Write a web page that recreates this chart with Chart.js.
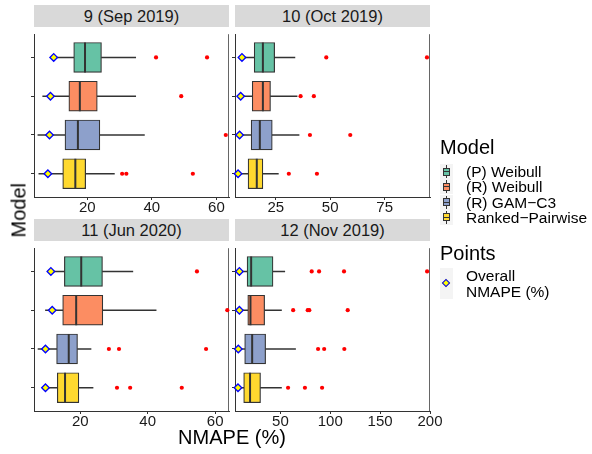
<!DOCTYPE html>
<html>
<head>
<meta charset="utf-8">
<script src="https://cdn.jsdelivr.net/npm/chart.js@4.4.0/dist/chart.umd.min.js"></script>
<style>
  body { margin: 0; background: #fff; }
  #fig { position: relative; width: 592px; height: 454px; overflow: hidden;
         font-family: "Liberation Sans", Arial, sans-serif; color: #000; }
  #fig canvas { position: absolute; }
  .strip { position: absolute; background: #d9d9d9; color: #1a1a1a; font-size: 16.5px;
           text-align: center; line-height: 22px; height: 22px; }
  .txt { position: absolute; white-space: nowrap; }
  .key { position: absolute; background: #f4f4f4; }
  .key div { position: absolute; box-sizing: border-box; }
</style>
</head>
<body>
<div id="fig"></div>
<script>
// categories (top to bottom) and facets
const models = ['(P) Weibull', '(R) Weibull', '(R) GAM\u2212C3', 'Ranked\u2212Pairwise'];
const periods = ['9 (Sep 2019)', '10 (Oct 2019)', '11 (Jun 2020)', '12 (Nov 2019)'];
const modelColors = ['#66C2A5', '#FC8D62', '#8DA0CB', '#FFD92F'];

// boxplot stats per period, one value per model
const lowerWhisker = [
  [9.3, 6.2, 4.7, 5.0],
  [9.2, 8.5, 8.0, 7.4],
  [11.5, 9.7, 7.5, 9.5],
  [9.0, 8.5, 7.5, 5.5]
];
const q1 = [
  [15.8, 14.3, 13.1, 12.4],
  [15.1, 14.2, 13.7, 12.3],
  [15.3, 14.8, 13.0, 13.2],
  [16.6, 17.3, 14.2, 13.2]
];
const median = [
  [19.3, 17.7, 17.1, 16.3],
  [19.1, 19.1, 17.7, 16.3],
  [20.3, 18.8, 16.6, 15.5],
  [20.7, 20.0, 21.7, 19.6]
];
const q3 = [
  [24.4, 23.1, 23.9, 19.5],
  [24.5, 22.6, 23.4, 19.1],
  [26.6, 26.7, 19.2, 19.6],
  [42.6, 34.2, 35.2, 30.1]
];
const upperWhisker = [
  [35.0, 35.0, 37.7, 28.4],
  [33.8, 34.8, 35.7, 26.2],
  [35.6, 42.5, 23.2, 23.8],
  [54.4, 51.1, 65.2, 51.1]
];
const outliers = [
  [[41.3, 57.1], [49.1], [62.9], [30.8, 32.1, 52.7]],
  [[48.2, 94.4], [36.4, 42.5], [40.7, 59.2], [31.0, 43.9]],
  [[54.6], [63.6], [28.5, 31.5, 57.3], [30.9, 34.8, 50.1]],
  [[81.4, 88.8, 113.8, 197.1], [62.8, 77.4, 79.0, 117.5], [87.8, 93.9, 114.1], [57.7, 74.6, 91.8]]
];
// overall NMAPE (%) per model
const overallNmape = [
  [9.6, 8.6, 8.3, 7.8],
  [9.5, 8.9, 8.4, 7.7],
  [11.3, 11.7, 9.7, 9.7],
  [8.9, 8.9, 7.8, 7.5]
];

// x axis limits and tick labels per facet
const xLimits = [[3.5, 63.9], [6.3, 95.8], [6.3, 64.1], [4.5, 200]];
const xTicks = [[20, 40, 60], [25, 50, 75], [20, 40, 60], [50, 100, 150, 200]];

const FONT = '"Liberation Sans", Arial, sans-serif';
const fig = document.getElementById('fig');

// panel geometry
const panelLeft = [34, 235, 34, 235];
const panelTop = [27, 27, 241, 241];
const PW = 195, PH = 170, YAX = 6, XAX = 28, PADR = 16;

function addText(str, x, cy, size, opts = {}) {
  const d = document.createElement('div');
  d.className = 'txt';
  d.textContent = str;
  d.style.fontSize = size + 'px';
  d.style.lineHeight = Math.round(size * 1.25) + 'px';
  d.style.left = x + 'px';
  d.style.top = (cy - Math.round(size * 1.25) / 2) + 'px';
  Object.assign(d.style, opts);
  fig.appendChild(d);
  return d;
}

// thin line at the right edge of each panel
const panelEdge = {
  id: 'panelEdge',
  beforeDatasetsDraw(chart) {
    const { ctx, chartArea: a } = chart;
    ctx.save();
    ctx.strokeStyle = '#666';
    ctx.lineWidth = 1;
    ctx.beginPath();
    ctx.moveTo(a.right - 0.5, a.top);
    ctx.lineTo(a.right - 0.5, a.bottom);
    ctx.stroke();
    ctx.restore();
  }
};

periods.forEach((period, i) => {
  const strip = document.createElement('div');
  strip.className = 'strip';
  strip.textContent = period;
  strip.style.left = panelLeft[i] + 'px';
  strip.style.top = (panelTop[i] - 22) + 'px';
  strip.style.width = PW + 'px';
  fig.appendChild(strip);

  const cv = document.createElement('canvas');
  cv.width = YAX + PW + PADR;
  cv.height = PH + XAX;
  cv.style.left = (panelLeft[i] - YAX) + 'px';
  cv.style.top = panelTop[i] + 'px';
  fig.appendChild(cv);

  const rows = models.map((m, k) => k);
  const outlierPts = [];
  rows.forEach(k => outliers[i][k].forEach(v => outlierPts.push({ x: v, y: k })));

  new Chart(cv.getContext('2d'), {
    type: 'bar',
    data: {
      datasets: [
        { data: rows.map(k => ({ x: [lowerWhisker[i][k], q1[i][k]], y: k })),
          backgroundColor: '#333', barThickness: 1, grouped: false, order: 4 },
        { data: rows.map(k => ({ x: [q3[i][k], upperWhisker[i][k]], y: k })),
          backgroundColor: '#333', barThickness: 1, grouped: false, order: 4 },
        { data: rows.map(k => ({ x: [q1[i][k], q3[i][k]], y: k })),
          backgroundColor: modelColors, borderColor: '#333', borderWidth: 1.2,
          borderSkipped: false, barThickness: 30, grouped: false, order: 3 },
        { type: 'scatter', data: rows.map(k => ({ x: median[i][k], y: k })),
          pointStyle: 'line', rotation: 90, radius: 15, borderColor: '#333',
          borderWidth: 2, order: 2 },
        { type: 'scatter', data: outlierPts, pointStyle: 'circle', radius: 2.1,
          backgroundColor: '#ff0000', borderWidth: 0, clip: false, order: 1 },
        { type: 'scatter', data: rows.map(k => ({ x: overallNmape[i][k], y: k })),
          pointStyle: 'rectRot', radius: 3.8, backgroundColor: '#ffff00',
          borderColor: '#0000ff', borderWidth: 1.3, clip: false, order: 0 }
      ]
    },
    options: {
      indexAxis: 'y',
      responsive: false,
      animation: false,
      layout: { autoPadding: false, padding: { left: 0, right: PADR, top: 0, bottom: 0 } },
      plugins: { legend: { display: false }, tooltip: { enabled: false } },
      scales: {
        x: {
          type: 'linear', min: xLimits[i][0], max: xLimits[i][1],
          afterBuildTicks: s => { s.ticks = xTicks[i].map(v => ({ value: v })); },
          afterFit: s => { s.height = XAX; s.paddingLeft = 0; s.paddingRight = 0; },
          grid: { drawOnChartArea: false, tickLength: 3, color: '#333' },
          border: { color: '#333', width: 1 },
          ticks: { font: { size: 15, family: FONT }, color: '#1a1a1a', padding: -1,
                   maxRotation: 0, autoSkip: false }
        },
        y: {
          type: 'linear', min: -0.6, max: 3.6, reverse: true, offset: false,
          afterBuildTicks: s => { s.ticks = rows.map(k => ({ value: k })); },
          afterFit: s => { s.width = YAX; },
          grid: { drawOnChartArea: false, offset: false, tickLength: 3, color: '#333' },
          border: { color: '#333', width: 1 },
          ticks: { callback: () => '', padding: 0 }
        }
      }
    },
    plugins: [panelEdge]
  });
});

// axis titles
addText('NMAPE (%)', 232, 437, 20, { transform: 'translateX(-50%)' });
const yTitle = addText('Model', 19, 218, 20, {});
yTitle.style.left = '0px';
yTitle.style.width = '38px';
yTitle.style.textAlign = 'center';
yTitle.style.transform = 'rotate(-90deg)';

// legend: Model
addText('Model', 440, 147, 20);
models.forEach((m, k) => {
  const cy = 171.5 + k * 15.3;
  const key = document.createElement('div');
  key.className = 'key';
  Object.assign(key.style, { left: '440px', top: (cy - 7.5) + 'px', width: '13px', height: '15px' });
  const whisk = document.createElement('div');
  Object.assign(whisk.style, { left: '6px', top: '1px', width: '1px', height: '13px', background: '#333' });
  const box = document.createElement('div');
  Object.assign(box.style, { left: '3px', top: '3.5px', width: '7px', height: '8px',
    background: modelColors[k], border: '1px solid #333' });
  const med = document.createElement('div');
  Object.assign(med.style, { left: '3px', top: '7px', width: '7px', height: '1.2px', background: '#333' });
  key.append(whisk, box, med);
  fig.appendChild(key);
  addText(m, 466, cy, 15.5);
});

// legend: Points
addText('Points', 440, 253, 20);
const pkey = document.createElement('div');
pkey.className = 'key';
Object.assign(pkey.style, { left: '440px', top: '268px', width: '13px', height: '31px' });
const dia = document.createElement('div');
Object.assign(dia.style, { left: '3px', top: '12px', width: '6px', height: '6px',
  background: '#ffff00', border: '1.2px solid #0000ff', transform: 'rotate(45deg)' });
pkey.appendChild(dia);
fig.appendChild(pkey);
addText('Overall', 466, 275, 15.5);
addText('NMAPE (%)', 466, 291, 15.5);
</script>
</body>
</html>
